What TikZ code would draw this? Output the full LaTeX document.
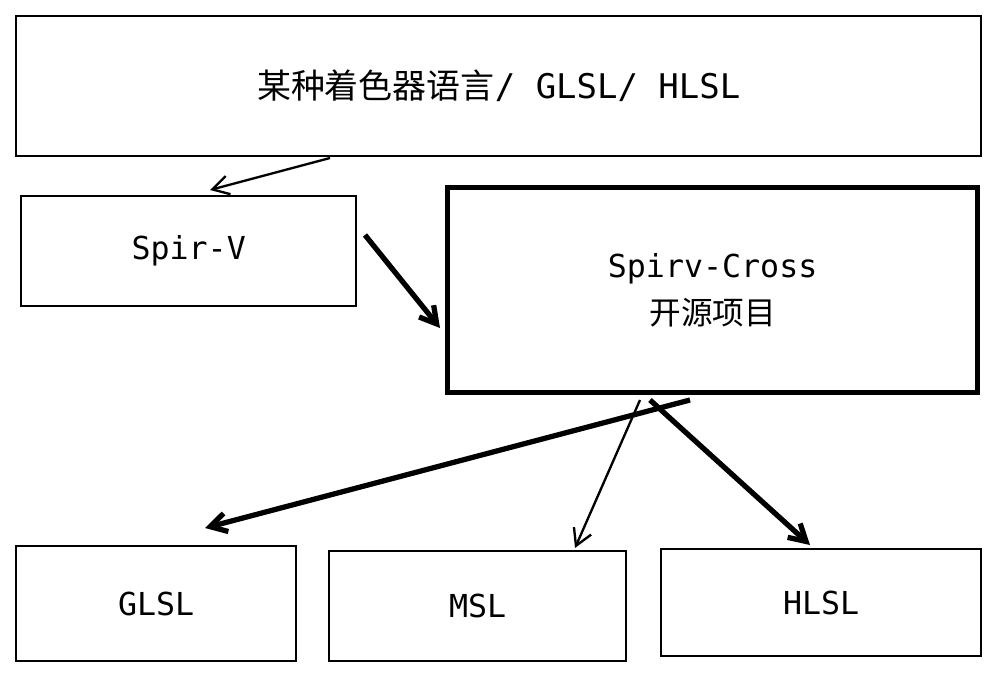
\documentclass[tikz,border=0pt]{standalone}
\usepackage{fontspec}
\setmainfont{DejaVu Sans Mono}
\newfontfamily\cjk{Noto Sans CJK SC}
\usetikzlibrary{arrows.meta}
\begin{document}
\begin{tikzpicture}[x=0.03cm,y=-0.03cm,
  box/.style={draw,line width=2pt},
  bigbox/.style={draw,line width=4.5pt},
  arr/.style={-{Straight Barb[length=14pt,width=16pt]},line width=2pt},
  tarr/.style={-{Straight Barb[length=14pt,width=16pt]},line width=4.5pt},
  lbl/.style={font=\fontsize{27}{40}\selectfont}]
\useasboundingbox (0,0) rectangle (1000,674);
\node[box,minimum width=965*0.03cm,minimum height=140*0.03cm,anchor=north west] (top) at (15,15) {};
\node at (top.center) {\fontsize{29}{34}\selectfont{\cjk 某种着色器语言}/ GLSL/ HLSL};
\node[box,minimum width=335*0.03cm,minimum height=110*0.03cm,anchor=north west,lbl] (spv) at (20,195) {Spir-V};
\node[bigbox,minimum width=530*0.03cm,minimum height=205*0.03cm,anchor=north west,align=center,lbl] (cross) at (445,185) {Spirv-Cross\\{\cjk 开源项目}};
\node[box,minimum width=280*0.03cm,minimum height=115*0.03cm,anchor=north west,lbl] (glsl) at (15,545) {GLSL};
\node[box,minimum width=297*0.03cm,minimum height=110*0.03cm,anchor=north west,lbl] (msl) at (328,550) {MSL};
\node[box,minimum width=320*0.03cm,minimum height=107*0.03cm,anchor=north west,lbl] (hlsl) at (660,548) {HLSL};
\coordinate (a1) at (330,158); \coordinate (a1e) at (210,190);
\draw[arr] (a1) -- (a1e);
\coordinate (s1) at (365,235); \coordinate (s1e) at (440,328);
\draw[tarr] (s1) -- (s1e);
\coordinate (c0) at (690,400); \coordinate (c0e) at (205,528);
\draw[tarr] (c0) -- (c0e);
\coordinate (c1) at (640,400); \coordinate (c1e) at (575,548);
\draw[arr] (c1) -- (c1e);
\coordinate (c2) at (650,400); \coordinate (c2e) at (810,545);
\draw[tarr] (c2) -- (c2e);
\end{tikzpicture}
\end{document}
